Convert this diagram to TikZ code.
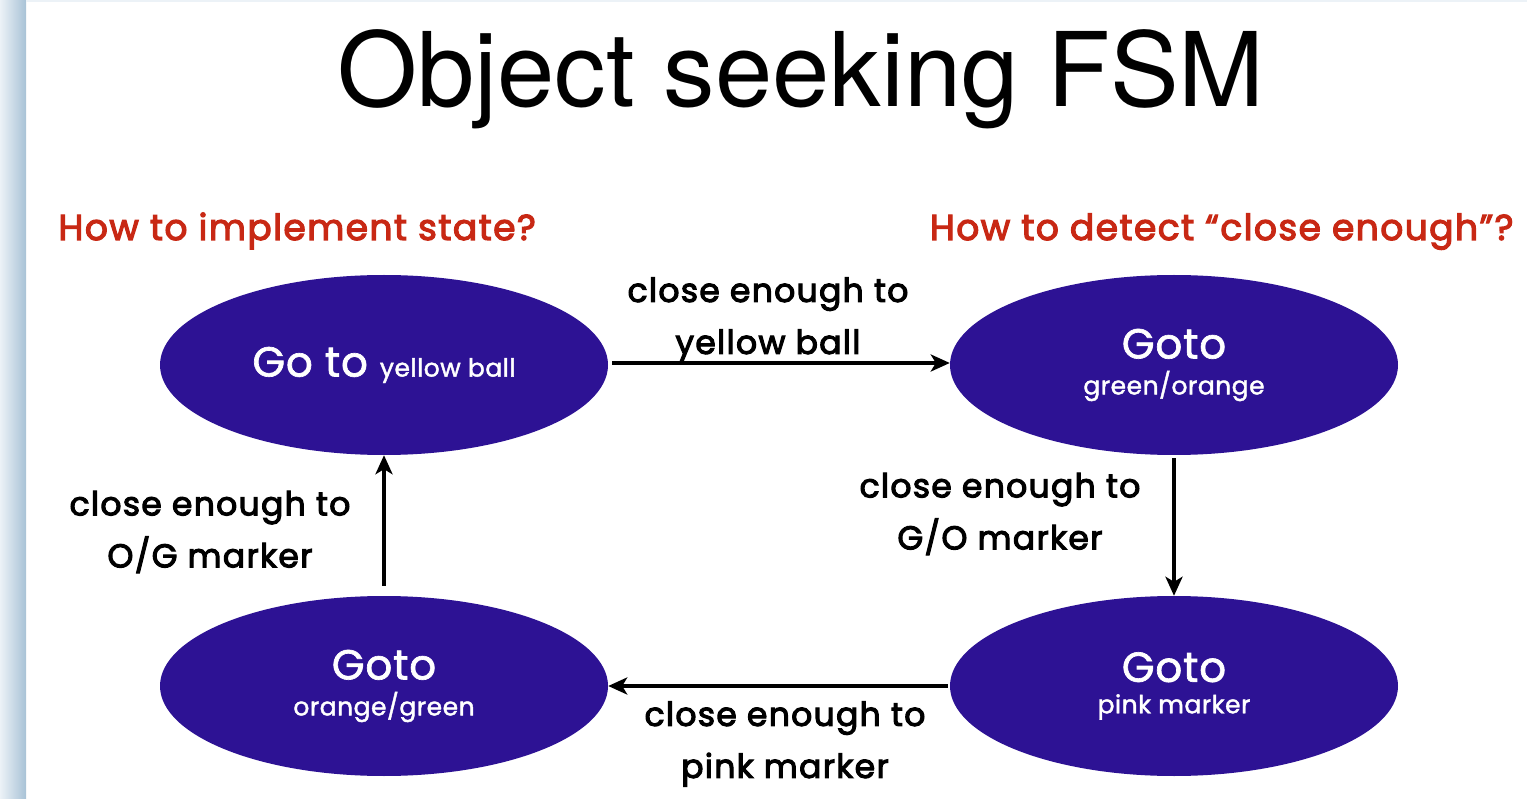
\documentclass[tikz,border=0pt]{standalone}
\usepackage{fontspec}
\setmainfont{Poppins}
\newfontfamily\titlefont{TeX Gyre Heros}
\newfontfamily\lblfont{Poppins}[FakeBold=3.2, LetterSpace=4]
\newfontfamily\statefont{Poppins}[FakeBold=1.6, LetterSpace=2]
\usetikzlibrary{shapes.geometric,arrows.meta}
\definecolor{stateblue}{RGB}{45,18,148}
\definecolor{notered}{RGB}{200,40,20}
\definecolor{stripL}{RGB}{236,242,247}
\definecolor{stripR}{RGB}{168,194,214}
\tikzset{
  state/.style={ellipse, fill=stateblue, minimum width=448pt, minimum height=180pt, inner sep=0pt, text=white, align=center, font=\statefont},
  trans/.style={line width=4pt, -{Stealth[length=19pt,width=17pt,inset=5pt]}},
  lbl/.style={font=\lblfont\fontsize{33}{52}\selectfont, align=center, text=black},
  note/.style={font=\lblfont\fontsize{36}{40}\selectfont, text=notered},
}
\newcommand{\bigword}[1]{{\fontsize{42}{46}\selectfont #1}}
\newcommand{\smallword}[1]{{\fontsize{25}{30}\selectfont #1}}
\begin{document}
\begin{tikzpicture}[x=1pt,y=-1pt]
\useasboundingbox (0,0) rectangle (1527,799);
\fill[white] (0,0) rectangle (1527,799);
\shade[left color=stripL, right color=stripR] (0,0) rectangle (26,799);
\fill[stripL] (26,0) rectangle (1527,2);
\node[anchor=base] (title) at (801,107) {\titlefont\fontsize{103}{110}\selectfont Object seeking FSM};
\node[note, anchor=base west] (n1) at (55,240) {How to implement state?};
\node[note, anchor=base east] (n2) at (1517,240) {How to detect “close enough”?};
\node[state] (s1) at (384,365) {\bigword{Go to}\hspace{12pt}\smallword{yellow ball}};
\node[state] (s2) at (1174,365) {\bigword{Goto}\\[11pt]\smallword{green/orange}};
\node[state] (s3) at (1174,686) {\bigword{Goto}\\[11pt]\smallword{pink marker}};
\node[state] (s4) at (384,686) {\bigword{Goto}\\[11pt]\smallword{orange/green}};
\draw[trans] (s1.east) ++(4,-2) coordinate (a1) -- (a1 -| s2.west) ;
\draw[trans] (s2.south) ++(0,3) coordinate (a2) -- (a2 |- s3.north);
\draw[trans] (s3.west) ++(-2,0) coordinate (a3) -- (a3 -| s4.east);
\draw[trans] (s4.north) ++(0,-10) coordinate (a4) -- (a4 |- s1.south);
\node[lbl] (l1) at (768,320) {close enough to\\yellow ball};
\node[lbl] (l2) at (1000,514) {close enough to\\G/O marker};
\node[lbl] (l3) at (210,532) {close enough to\\O/G marker};
\node[lbl] (l4) at (785,744) {close enough to\\pink marker};
\end{tikzpicture}
\end{document}
